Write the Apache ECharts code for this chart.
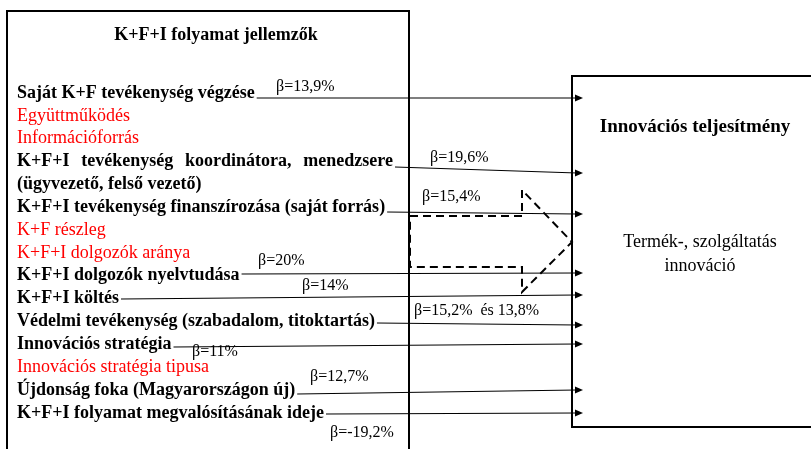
<!DOCTYPE html>
<html>
<head>
<meta charset="utf-8">
<script src="https://cdn.jsdelivr.net/npm/echarts@6.0.0/dist/echarts.min.js"></script>
<style>
html, body { margin: 0; background: #fff; }
#chart { width: 811px; height: 449px; }
</style>
</head>
<body>
<div id="chart"></div>
<script>
// left block: factors of the R&D+I process
const leftTitle = 'K+F+I folyamat jellemzők';
const rows = [
	'Saját K+F tevékenység végzése',
	'Együttműködés',
	'Információforrás',
	'K+F+I tevékenység koordinátora, menedzsere',
	'(ügyvezető, felső vezető)',
	'K+F+I tevékenység finanszírozása (saját forrás)',
	'K+F részleg',
	'K+F+I dolgozók aránya',
	'K+F+I dolgozók nyelvtudása',
	'K+F+I költés',
	'Védelmi tevékenység (szabadalom, titoktartás)',
	'Innovációs stratégia',
	'Innovációs stratégia tipusa',
	'Újdonság foka (Magyarországon új)',
	'K+F+I folyamat megvalósításának ideje'
];
// false = not significant (drawn red)
const significant = [true, false, false, true, true, true, false, false, true, true, true, true, false, true, true];

// arrows: source row, height where they leave the text and where they land on the right block
const arrowRows = [0, 3, 5, 8, 9, 10, 11, 13, 14];
const arrowSourceY = [98, 167, 212, 274, 299, 323, 347, 394, 414];
const arrowTargetY = [98, 173, 214, 273, 295, 325, 344, 390, 413];

// beta labels
const betas = ['β=13,9%', 'β=19,6%', 'β=15,4%', 'β=20%', 'β=14%', 'β=15,2%  és 13,8%', 'β=11%', 'β=12,7%', 'β=-19,2%'];
const betaAt = [[276, 87], [430, 158], [422, 197], [258, 261], [302, 286], [414, 311], [192, 352], [310, 377], [330, 433]];

// right block
const rightTitle = 'Innovációs teljesítmény';
const rightText = ['Termék-, szolgáltatás', 'innováció'];

const SERIF = '"Liberation Serif", "DejaVu Serif", serif';
const boldFont = 'bold 18px ' + SERIF;
const plainFont = '18px ' + SERIF;
const textX = 17;
const rowY = (i) => 93 + i * 22.85;

const measure = document.createElement('canvas').getContext('2d');
const textWidth = (t, font) => { measure.font = font; return measure.measureText(t).width; };

const chart = echarts.init(document.getElementById('chart'));

const frameSeries = {
	type: 'custom',
	coordinateSystem: 'cartesian2d',
	clip: false,
	silent: true,
	data: [[0, 0]],
	renderItem: (params, api) => {
		const p = (x, y) => api.coord([x, y]);
		const [lx0, ly0] = p(7, 11), [lx1, ly1] = p(409, 470);
		const [rx0, ry0] = p(572, 76), [rx1, ry1] = p(830, 427);
		const dash = [[410, 216], [522, 216], [522, 190], [572, 242], [522, 292], [522, 267], [410, 267]].map(([x, y]) => p(x, y));
		const [tx, ty] = p(216, 35);
		const [rtx, rty] = p(695, 127);
		return {
			type: 'group',
			children: [
				{ type: 'rect', shape: { x: lx0, y: ly0, width: lx1 - lx0, height: ly1 - ly0 }, style: { fill: 'none', stroke: '#000', lineWidth: 2 } },
				{ type: 'rect', shape: { x: rx0, y: ry0, width: rx1 - rx0, height: ry1 - ry0 }, style: { fill: 'none', stroke: '#000', lineWidth: 2 } },
				{ type: 'polygon', shape: { points: dash }, style: { fill: 'none', stroke: '#000', lineWidth: 2, lineDash: [8, 5] } },
				{ type: 'text', x: tx, y: ty, style: { text: leftTitle, font: boldFont, fill: '#000', align: 'center', verticalAlign: 'middle' } },
				{ type: 'text', x: rtx, y: rty, style: { text: rightTitle, font: 'bold 19px ' + SERIF, fill: '#000', align: 'center', verticalAlign: 'middle' } },
				...rightText.map((t, i) => {
					const [x, y] = p(700, 242 + i * 24);
					return { type: 'text', x, y, style: { text: t, font: plainFont, fill: '#000', align: 'center', verticalAlign: 'middle' } };
				})
			]
		};
	}
};

const rowSeries = {
	type: 'custom',
	coordinateSystem: 'cartesian2d',
	clip: false,
	silent: true,
	data: rows.map((r, i) => [textX, rowY(i), i]),
	renderItem: (params, api) => {
		const i = api.value(2);
		const [x, y] = api.coord([api.value(0), api.value(1)]);
		const font = significant[i] ? boldFont : plainFont;
		const fill = significant[i] ? '#000' : '#ff0000';
		if (i === 3) {
			// justified line
			const words = rows[i].split(' ');
			const right = api.coord([393, 0])[0];
			const total = words.reduce((s, w) => s + textWidth(w, font), 0);
			const gap = (right - x - total) / (words.length - 1);
			let cx = x;
			return {
				type: 'group',
				children: words.map((w) => {
					const el = { type: 'text', x: cx, y, style: { text: w, font, fill, verticalAlign: 'middle' } };
					cx += textWidth(w, font) + gap;
					return el;
				})
			};
		}
		return { type: 'text', x, y, style: { text: rows[i], font, fill, verticalAlign: 'middle' } };
	}
};

const arrowSeries = {
	type: 'custom',
	coordinateSystem: 'cartesian2d',
	clip: false,
	silent: true,
	data: arrowRows.map((r, k) => {
		const end = r === 3 ? 393 : textX + textWidth(rows[r], boldFont);
		return [end + 2, arrowSourceY[k], 583, arrowTargetY[k]];
	}),
	renderItem: (params, api) => {
		const [x1, y1] = api.coord([api.value(0), api.value(1)]);
		const [x2, y2] = api.coord([api.value(2), api.value(3)]);
		return {
			type: 'group',
			children: [
				{ type: 'line', shape: { x1, y1, x2: x2 - 6, y2 }, style: { stroke: '#000', lineWidth: 1.2 } },
				{ type: 'polygon', shape: { points: [[x2, y2], [x2 - 8, y2 - 3.5], [x2 - 8, y2 + 3.5]] }, style: { fill: '#000' } }
			]
		};
	}
};

const betaSeries = {
	type: 'custom',
	coordinateSystem: 'cartesian2d',
	clip: false,
	silent: true,
	data: betas.map((b, i) => [betaAt[i][0], betaAt[i][1], i]),
	renderItem: (params, api) => {
		const [x, y] = api.coord([api.value(0), api.value(1)]);
		return { type: 'text', x, y, style: { text: betas[api.value(2)], font: '16px ' + SERIF, fill: '#000', verticalAlign: 'middle' } };
	}
};

chart.setOption({
	animation: false,
	grid: { left: 0, right: 0, top: 0, bottom: 0 },
	xAxis: { type: 'value', min: 0, max: 811, show: false },
	yAxis: { type: 'value', min: 0, max: 449, inverse: true, show: false },
	series: [frameSeries, arrowSeries, rowSeries, betaSeries]
});
</script>
</body>
</html>
